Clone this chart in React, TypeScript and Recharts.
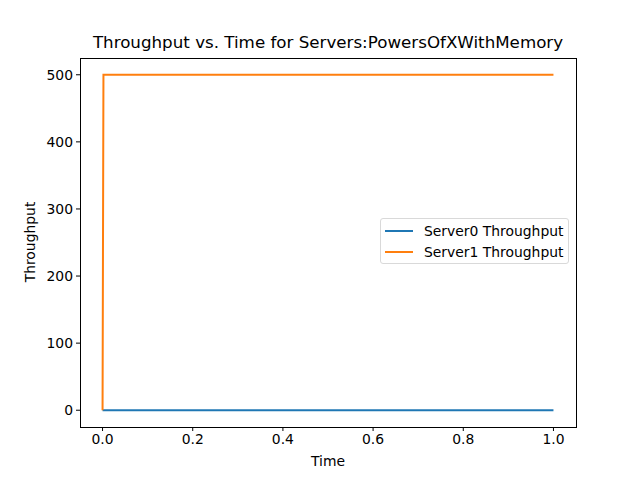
import { LineChart, Line, XAxis, YAxis } from 'recharts';

const times = [0, 0.002, 1.0];
const server0 = [0, 0, 0];
const server1 = [0, 500, 500];
const xTicks = [0, 0.2, 0.4, 0.6, 0.8, 1.0];
const yTicks = [0, 100, 200, 300, 400, 500];

const data = times.map((t, i) => ({ time: t, s0: server0[i], s1: server1[i] }));

const font = 'DejaVu Sans, sans-serif';
const tickStyle = { fontSize: 13.9, fill: '#000', fontFamily: font };

function LegendBox() {
    const items = [
        { name: 'Server0 Throughput', color: '#1f77b4' },
        { name: 'Server1 Throughput', color: '#ff7f0e' },
    ];
    return (
        <div style={{
            position: 'absolute', left: 380, top: 218, width: 189, height: 46,
            border: '1px solid #d9d9d9', borderRadius: 3, background: 'rgba(255,255,255,0.8)',
            fontFamily: font, fontSize: 13.9, boxSizing: 'border-box',
        }}>
            {items.map((it, i) => (
                <div key={it.name} style={{ position: 'absolute', left: 4, top: 3 + i * 21, height: 18, display: 'flex', alignItems: 'center' }}>
                    <div style={{ width: 28, height: 2, background: it.color, marginRight: 11 }} />
                    <span style={{ whiteSpace: 'nowrap' }}>{it.name}</span>
                </div>
            ))}
        </div>
    );
}

function App() {
    return (
        <div style={{ position: 'absolute', left: 0, top: 0, width: 640, height: 480, background: '#fff' }}>
            <div style={{ position: 'absolute', top: 32, left: 80, width: 496, textAlign: 'center', fontFamily: font, fontSize: 16.7 }}>
                Throughput vs. Time for Servers:PowersOfXWithMemory
            </div>
            <LineChart
                width={640}
                height={480}
                data={data}
                margin={{ top: 58, right: 64, left: 30, bottom: 23 }}
            >
                <XAxis
                    dataKey="time"
                    type="number"
                    domain={[-0.05, 1.05]}
                    ticks={xTicks}
                    tickFormatter={(v: number) => v.toFixed(1)}
                    tick={tickStyle}
                    tickSize={4}
                    tickMargin={3}
                    height={30}
                    stroke="#000"
                    axisLine={false}
                    allowDataOverflow
                />
                <YAxis
                    type="number"
                    domain={[-25, 525]}
                    ticks={yTicks}
                    tick={tickStyle}
                    tickSize={4}
                    tickMargin={3}
                    width={50}
                    stroke="#000"
                    axisLine={false}
                    allowDataOverflow
                />
                <Line type="linear" dataKey="s0" stroke="#1f77b4" strokeWidth={2} dot={false} isAnimationActive={false} />
                <Line type="linear" dataKey="s1" stroke="#ff7f0e" strokeWidth={2} dot={false} isAnimationActive={false} />
            </LineChart>
            <div style={{
                position: 'absolute', left: 80, top: 58, width: 497, height: 370,
                border: '1px solid #000', boxSizing: 'border-box', pointerEvents: 'none',
            }} />
            <LegendBox />
            <div style={{ position: 'absolute', top: 453, left: 80, width: 496, textAlign: 'center', fontFamily: font, fontSize: 13.9 }}>
                Time
            </div>
            <div style={{
                position: 'absolute', left: 30, top: 242, fontFamily: font, fontSize: 13.9,
                transform: 'translate(-50%, -50%) rotate(-90deg)', whiteSpace: 'nowrap',
            }}>
                Throughput
            </div>
        </div>
    );
}

export default App;
